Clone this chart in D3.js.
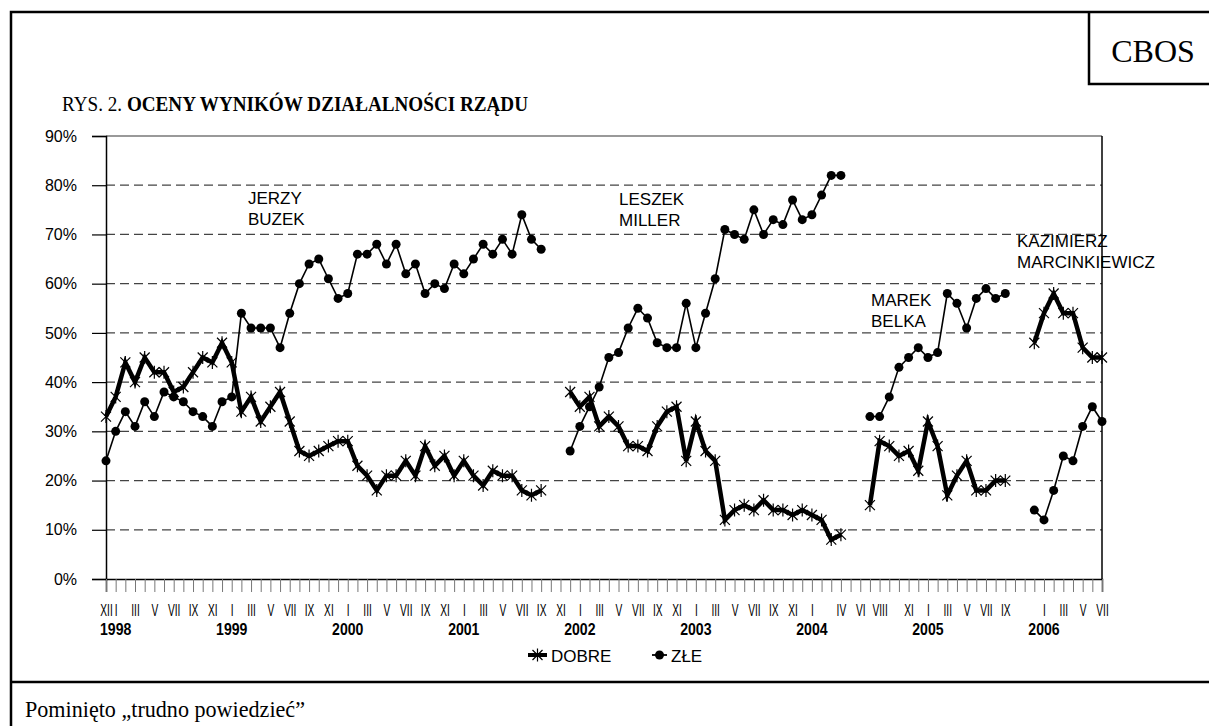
<!DOCTYPE html>
<html>
<head>
<meta charset="utf-8">
<script src="https://cdn.jsdelivr.net/npm/d3@7"></script>
<style>
  body { margin: 0; background: #fff; }
  svg { display: block; }
</style>
</head>
<body>
<svg id="chart" width="1209" height="726"></svg>
<script>
// month tick labels, XII 1997 .. VII 2006 (one per survey month)
const monthLabels = [
  "XII",
  "I", "", "III", "", "V", "", "VII", "", "IX", "", "XI", "",    // 1998
  "I", "", "III", "", "V", "", "VII", "", "IX", "", "XI", "",    // 1999
  "I", "", "III", "", "V", "", "VII", "", "IX", "", "XI", "",    // 2000
  "I", "", "III", "", "V", "", "VII", "", "IX", "", "XI", "",    // 2001
  "I", "", "III", "", "V", "", "VII", "", "IX", "", "XI", "",    // 2002
  "I", "", "III", "", "V", "", "VII", "", "IX", "", "XI", "",    // 2003
  "I", "", "", "IV", "", "VI", "", "VIII", "", "", "XI", "",     // 2004
  "I", "", "III", "", "V", "", "VII", "", "IX", "", "", "",      // 2005
  "I", "", "III", "", "V", "", "VII"                             // 2006
]
const yearLabels = ["1998", "1999", "2000", "2001", "2002", "2003", "2004", "2005", "2006"]
const yTicks = [0, 0.1, 0.2, 0.3, 0.4, 0.5, 0.6, 0.7, 0.8, 0.9]

// Buzek: XII 1997 - IX 2001
const buzekDobre = [33, 37, 44, 40, 45, 42, 42, 38, 39, 42, 45, 44, 48, 44, 34, 37, 32, 35, 38, 32,
  26, 25, 26, 27, 28, 28, 23, 21, 18, 21, 21, 24, 21, 27, 23, 25, 21, 24, 21, 19, 22, 21, 21, 18, 17, 18]
const buzekZle = [24, 30, 34, 31, 36, 33, 38, 37, 36, 34, 33, 31, 36, 37, 54, 51, 51, 51, 47, 54,
  60, 64, 65, 61, 57, 58, 66, 66, 68, 64, 68, 62, 64, 58, 60, 59, 64, 62, 65, 68, 66, 69, 66, 74, 69, 67]
// Miller: XII 2001 - IV 2004
const millerDobre = [38, 35, 37, 31, 33, 31, 27, 27, 26, 31, 34, 35, 24, 32, 26, 24, 12, 14, 15, 14,
  16, 14, 14, 13, 14, 13, 12, 8, 9]
const millerZle = [26, 31, 35, 39, 45, 46, 51, 55, 53, 48, 47, 47, 56, 47, 54, 61, 71, 70, 69, 75,
  70, 73, 72, 77, 73, 74, 78, 82, 82]
// Belka: VII 2004 - IX 2005
const belkaDobre = [15, 28, 27, 25, 26, 22, 32, 27, 17, 21, 24, 18, 18, 20, 20]
const belkaZle = [33, 33, 37, 43, 45, 47, 45, 46, 58, 56, 51, 57, 59, 57, 58]
// Marcinkiewicz: XII 2005 - VII 2006
const marcDobre = [48, 54, 58, 54, 54, 47, 45, 45]
const marcZle = [14, 12, 18, 25, 24, 31, 35, 32]

const governments = [
  { name: ["JERZY", "BUZEK"], start: "1997-12", dobre: buzekDobre, zle: buzekZle },
  { name: ["LESZEK", "MILLER"], start: "2001-12", dobre: millerDobre, zle: millerZle },
  { name: ["MAREK", "BELKA"], start: "2004-07", dobre: belkaDobre, zle: belkaZle },
  { name: ["KAZIMIERZ", "MARCINKIEWICZ"], start: "2005-12", dobre: marcDobre, zle: marcZle }
]

const fmtMonth = d3.timeFormat("%Y-%m")
const categories = d3.timeMonth.range(new Date(1997, 11, 1), new Date(2006, 7, 1)).map(fmtMonth)

const sans = "'Liberation Sans', Arial, sans-serif"
const serif = "'Liberation Serif', 'Times New Roman', serif"

const svg = d3.select("#chart")

// outer frame, footer separator, CBOS box
svg.append("path").attr("d", "M1215,12H11V730").attr("fill", "none").attr("stroke", "#000").attr("stroke-width", 2.5)
svg.append("path").attr("d", "M11,682H1215").attr("stroke", "#000").attr("stroke-width", 2.5)
svg.append("path").attr("d", "M1089,12V84H1215").attr("fill", "none").attr("stroke", "#000").attr("stroke-width", 2.5)

svg.append("text").attr("x", 1153).attr("y", 62).attr("text-anchor", "middle")
  .attr("font-family", serif).attr("font-size", 32).text("CBOS")

const title = svg.append("text").attr("x", 62).attr("y", 111)
  .attr("font-family", serif).attr("font-size", 20)
  .attr("textLength", 466).attr("lengthAdjust", "spacingAndGlyphs")
title.append("tspan").text("RYS. 2. ")
title.append("tspan").attr("font-weight", "bold").text("OCENY WYNIKÓW DZIAŁALNOŚCI RZĄDU")

svg.append("text").attr("x", 25).attr("y", 717)
  .attr("font-family", serif).attr("font-size", 24)
  .attr("textLength", 280).attr("lengthAdjust", "spacingAndGlyphs")
  .text("Pominięto „trudno powiedzieć”")

const x = d3.scalePoint().domain(categories).range([106, 1102])
const y = d3.scaleLinear().domain([0, 0.9]).range([579, 136])

// grid
svg.append("g").selectAll("line").data(yTicks.filter(d => d > 0 && d < 0.9)).enter().append("line")
  .attr("x1", 106).attr("x2", 1102)
  .attr("y1", d => y(d)).attr("y2", d => y(d))
  .attr("stroke", "#444").attr("stroke-width", 1.2).attr("stroke-dasharray", "9,5")
svg.append("line").attr("x1", 106).attr("x2", 1102).attr("y1", y(0.9)).attr("y2", y(0.9))
  .attr("stroke", "#777").attr("stroke-width", 1.5)
svg.append("line").attr("x1", 1102).attr("x2", 1102).attr("y1", y(0.9)).attr("y2", y(0))
  .attr("stroke", "#000").attr("stroke-width", 1.5)

// y axis
const yAxis = svg.append("g").attr("transform", "translate(106,0)")
  .call(d3.axisLeft(y).tickValues(yTicks).tickFormat(d3.format(".0%")).tickSize(14).tickPadding(15))
yAxis.select(".domain").attr("stroke", "#000").attr("stroke-width", 1.5)
yAxis.selectAll(".tick line").attr("stroke", "#000").attr("stroke-width", 1.2)
yAxis.selectAll("text").attr("font-family", sans).attr("font-size", 16).attr("fill", "#000")

// x axis
const xAxis = svg.append("g").attr("transform", `translate(0,${y(0)})`)
  .call(d3.axisBottom(x).tickSize(13).tickFormat((d, i) => monthLabels[i]))
xAxis.select(".domain").attr("stroke", "#000").attr("stroke-width", 1.5)
xAxis.selectAll(".tick line").attr("stroke", "#777").attr("stroke-width", 1)
xAxis.selectAll("text")
  .attr("font-family", sans).attr("font-size", 17).attr("fill", "#000")
  .attr("y", 0).attr("dy", 0)
  .attr("transform", "translate(0,37) scale(0.6,1)")

svg.append("g").selectAll("text").data(yearLabels).enter().append("text")
  .attr("transform", d => `translate(${x(d + "-01")},635) scale(0.88,1)`)
  .attr("text-anchor", "middle")
  .attr("font-family", sans).attr("font-size", 16).attr("font-weight", "bold")
  .text(d => d)

// series
const starPath = "M-5,-5L5,5M-5,5L5,-5M0,-6.5V6.5"
const line = d3.line().x(d => x(d.month)).y(d => y(d.value / 100))

governments.forEach(g => {
  const i0 = categories.indexOf(g.start)
  const dobre = g.dobre.map((v, i) => ({ month: categories[i0 + i], value: v }))
  const zle = g.zle.map((v, i) => ({ month: categories[i0 + i], value: v }))

  svg.append("path").datum(zle).attr("d", line)
    .attr("fill", "none").attr("stroke", "#000").attr("stroke-width", 1.6)
  svg.append("g").selectAll("circle").data(zle).enter().append("circle")
    .attr("cx", d => x(d.month)).attr("cy", d => y(d.value / 100))
    .attr("r", 4.5).attr("fill", "#000")

  svg.append("path").datum(dobre).attr("d", line)
    .attr("fill", "none").attr("stroke", "#000").attr("stroke-width", 4.5)
    .attr("stroke-linejoin", "miter")
  svg.append("g").selectAll("path").data(dobre).enter().append("path")
    .attr("transform", d => `translate(${x(d.month)},${y(d.value / 100)})`)
    .attr("d", starPath).attr("stroke", "#000").attr("stroke-width", 1.2).attr("fill", "none")
})

// government names
const nameAt = [[248, 204], [619, 205], [871, 306], [1017, 247]]
governments.forEach((g, k) => {
  const t = svg.append("text").attr("font-family", sans).attr("font-size", 17).attr("fill", "#000")
  g.name.forEach((s, j) => {
    t.append("tspan").attr("x", nameAt[k][0]).attr("y", nameAt[k][1] + j * 21).text(s)
  })
})

// legend
const legend = svg.append("g").attr("transform", "translate(0,655)")
legend.append("line").attr("x1", 528).attr("x2", 547).attr("stroke", "#000").attr("stroke-width", 4)
legend.append("path").attr("transform", "translate(537.5,0)").attr("d", starPath)
  .attr("stroke", "#000").attr("stroke-width", 1.2).attr("fill", "none")
legend.append("text").attr("x", 551).attr("y", 7).attr("font-family", sans).attr("font-size", 17).text("DOBRE")
legend.append("line").attr("x1", 652).attr("x2", 667).attr("stroke", "#000").attr("stroke-width", 1.8)
legend.append("circle").attr("cx", 659.5).attr("r", 4.5).attr("fill", "#000")
legend.append("text").attr("x", 671).attr("y", 7).attr("font-family", sans).attr("font-size", 17).text("ZŁE")
</script>
</body>
</html>
